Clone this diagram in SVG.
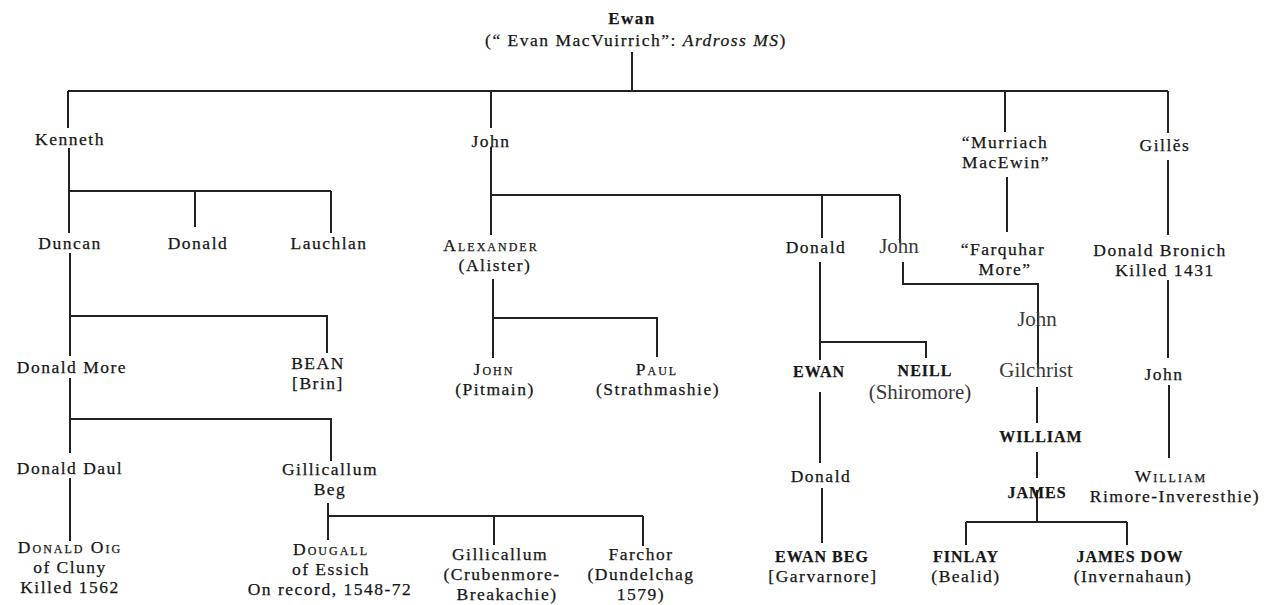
<svg xmlns="http://www.w3.org/2000/svg" width="1271" height="605" viewBox="0 0 1271 605">
<style>
.t{font-family:"Liberation Serif","Times New Roman",serif;font-size:17.5px;fill:#161616;stroke:#161616;stroke-width:0.25px;text-anchor:middle;letter-spacing:1.5px}
.sc{font-variant:small-caps;letter-spacing:2px}
.b{font-weight:bold;font-size:16px;letter-spacing:1px}
.r{font-size:21px;fill:#3a3a3a;stroke:none;letter-spacing:0}
.ln path{stroke:#222;stroke-width:2;fill:none}
</style>
<rect width="1271" height="605" fill="#fff"/>
<g class="ln" id="connectors">
<path d="M632,52V91M68,91H1168M68,91V128M491,91V128M1005,91V132M1168,91V133"/>
<path d="M69,148V233M69,191H331M195,191V227M331,191V233"/>
<path d="M70,253V356M70,316H327V353"/>
<path d="M70,378V453M70,419H331V461"/>
<path d="M70,478V541"/>
<path d="M328,503V540M328,516H643M494,516V545M643,516V546"/>
<path d="M491,147V235M491,195H900M822,195V238M900,195V243"/>
<path d="M493,279V358M493,318H657V357"/>
<path d="M820,262V360M820,342H926V358"/>
<path d="M820,392V463M822,488V543"/>
<path d="M903,262V284H1038V368"/>
<path d="M1037,387V423M1037,452V478M1037,490V522M966,522H1127M966,522V545M1127,522V545"/>
<path d="M1007,177V232"/>
<path d="M1168,160V235M1168,280V358M1169,385V458"/>
</g>
<g id="ewan" class="t"><text x="632" y="24" font-weight="bold" font-size="17">Ewan</text><text x="636" y="46">(“ Evan MacVuirrich”: <tspan font-style="italic">Ardross MS</tspan>)</text></g>
<g id="kenneth" class="t"><text x="70" y="145">Kenneth</text></g>
<g id="john1" class="t"><text x="491" y="147">John</text></g>
<g id="murriach" class="t"><text x="1005" y="148">“Murriach</text><text x="1006" y="168">MacEwin”</text></g>
<g id="gilles" class="t"><text x="1165" y="151">Gillĕs</text></g>
<g id="duncan" class="t"><text x="70" y="249">Duncan</text></g>
<g id="donald1" class="t"><text x="198" y="249">Donald</text></g>
<g id="lauchlan" class="t"><text x="329" y="249">Lauchlan</text></g>
<g id="alexander" class="t"><text x="491" y="251" class="sc">Alexander</text><text x="495" y="271">(Alister)</text></g>
<g id="donald2" class="t"><text x="816" y="253">Donald</text></g>
<g id="john2" class="t r"><text x="899" y="253">John</text></g>
<g id="farquhar" class="t"><text x="1003" y="255">“Farquhar</text><text x="1005" y="275">More”</text></g>
<g id="bronich" class="t"><text x="1160" y="256">Donald Bronich</text><text x="1165" y="276">Killed 1431</text></g>
<g id="john3" class="t r"><text x="1037" y="326">John</text></g>
<g id="donaldmore" class="t"><text x="72" y="373">Donald More</text></g>
<g id="bean" class="t"><text x="318" y="369">BEAN</text><text x="318" y="389">[Brin]</text></g>
<g id="johnpitmain" class="t"><text x="494" y="375" class="sc">John</text><text x="495" y="395">(Pitmain)</text></g>
<g id="paul" class="t"><text x="657" y="375" class="sc">Paul</text><text x="658" y="395">(Strathmashie)</text></g>
<g id="ewan2" class="t b"><text x="819" y="377">EWAN</text></g>
<g id="neill" class="t"><text x="925" y="376" class="b">NEILL</text><text x="920" y="399" class="r">(Shiromore)</text></g>
<g id="gilchrist" class="t r"><text x="1036" y="377">Gilchrist</text></g>
<g id="john4" class="t"><text x="1164" y="380">John</text></g>
<g id="william1" class="t b"><text x="1041" y="442">WILLIAM</text></g>
<g id="donalddaul" class="t"><text x="70" y="474">Donald Daul</text></g>
<g id="gillicallumbeg" class="t"><text x="330" y="475">Gillicallum</text><text x="330" y="495">Beg</text></g>
<g id="donald3" class="t"><text x="821" y="482">Donald</text></g>
<g id="james" class="t b"><text x="1037" y="498">JAMES</text></g>
<g id="william2" class="t"><text x="1171" y="482" class="sc">William</text><text x="1175" y="502">Rimore-Inveresthie)</text></g>
<g id="donaldoig" class="t"><text x="70" y="553" class="sc">Donald Oig</text><text x="70" y="573">of Cluny</text><text x="70" y="593">Killed 1562</text></g>
<g id="dougall" class="t"><text x="331" y="555" class="sc">Dougall</text><text x="331" y="575">of Essich</text><text x="330" y="595">On record, 1548-72</text></g>
<g id="gillicallum" class="t"><text x="500" y="560">Gillicallum</text><text x="502" y="580">(Crubenmore-</text><text x="507" y="600">Breakachie)</text></g>
<g id="farchor" class="t"><text x="641" y="560">Farchor</text><text x="641" y="580">(Dundelchag</text><text x="641" y="600">1579)</text></g>
<g id="ewanbeg" class="t"><text x="822" y="562" class="b">EWAN BEG</text><text x="823" y="582">[Garvarnore]</text></g>
<g id="finlay" class="t"><text x="966" y="562" class="b">FINLAY</text><text x="966" y="582">(Bealid)</text></g>
<g id="jamesdow" class="t"><text x="1130" y="562" class="b">JAMES DOW</text><text x="1133" y="582">(Invernahaun)</text></g>
</svg>
